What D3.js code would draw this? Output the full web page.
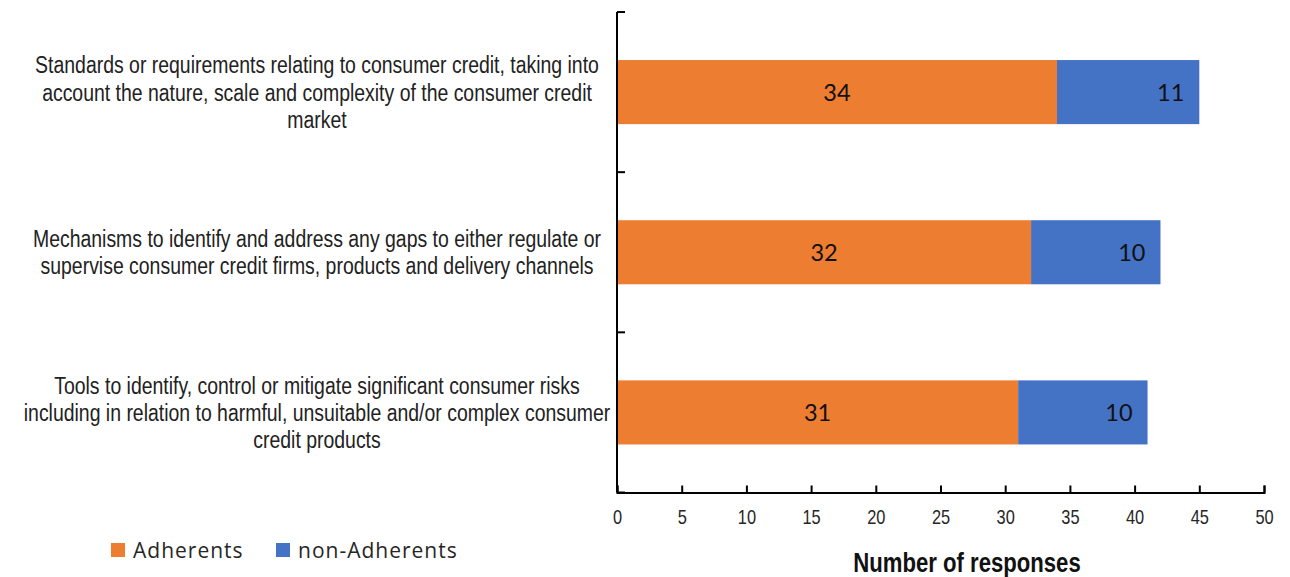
<!DOCTYPE html>
<html>
<head>
<meta charset="utf-8">
<script src="https://cdn.jsdelivr.net/npm/d3@7"></script>
<style>
  html, body { margin: 0; padding: 0; background: #fff; }
  svg { display: block; }
  .cat { font-family: "Liberation Sans", Arial, sans-serif; font-size: 24px; fill: #222; }
  .tick text { font-family: "Liberation Sans", Arial, sans-serif; font-size: 20px; fill: #262626; }
  .title { font-family: "Liberation Sans", Arial, sans-serif; font-size: 27px; font-weight: bold; fill: #111; }
  .val { font-family: Lato, "Open Sans", sans-serif; font-size: 23.5px; fill: #111; }
  .leg { font-family: "Open Sans", Lato, sans-serif; font-size: 21px; letter-spacing: 1px; fill: #262626; }
</style>
</head>
<body>
<svg id="chart" width="1290" height="577"></svg>
<script>
// Survey categories, top to bottom
const categories = [
  ["Standards or requirements relating to consumer credit, taking into",
   "account the nature, scale and complexity of the consumer credit",
   "market"],
  ["Mechanisms to identify and address any gaps to either regulate or",
   "supervise consumer credit firms, products and delivery channels"],
  ["Tools to identify, control or mitigate significant consumer risks",
   "including in relation to harmful, unsuitable and/or complex consumer",
   "credit products"]
];
const adherents = [34, 32, 31];
const nonAdherents = [11, 10, 10];
const seriesNames = ["Adherents", "non-Adherents"];
const seriesColors = ["#ED7D31", "#4472C4"];
const xTicks = [0, 5, 10, 15, 20, 25, 30, 35, 40, 45, 50];
const xTitle = "Number of responses";

const svg = d3.select("#chart");
const plotLeft = 617, plotRight = 1264, plotTop = 12, plotBottom = 492.5;
const narrow = 0.82;    // horizontal squeeze for the condensed sans text
const catNarrow = 0.81; // squeeze for the category labels

const x = d3.scaleLinear().domain([0, 50]).range([plotLeft, plotRight]);
const y = d3.scaleBand().domain(d3.range(categories.length)).range([plotTop, plotBottom]).paddingInner(0.6).paddingOuter(0.3);
const yFull = d3.scaleBand().domain(d3.range(categories.length)).range([plotTop, plotBottom]);

const rows = categories.map((c, i) => ({ i, a: adherents[i], n: nonAdherents[i] }));

// Stacked bars
const g = svg.append("g");
g.selectAll("rect.a").data(rows).join("rect")
  .attr("x", x(0)).attr("y", d => y(d.i))
  .attr("width", d => x(d.a) - x(0)).attr("height", y.bandwidth())
  .attr("fill", seriesColors[0]);
g.selectAll("rect.n").data(rows).join("rect")
  .attr("x", d => x(d.a)).attr("y", d => y(d.i))
  .attr("width", d => x(d.a + d.n) - x(d.a)).attr("height", y.bandwidth())
  .attr("fill", seriesColors[1]);

// Value labels
g.selectAll("text.va").data(rows).join("text").attr("class", "val")
  .attr("x", d => (x(0) + x(d.a)) / 2).attr("y", d => y(d.i) + y.bandwidth() / 2 + 8.5)
  .attr("text-anchor", "middle").text(d => d.a);
g.selectAll("text.vn").data(rows).join("text").attr("class", "val")
  .attr("x", d => x(d.a + d.n) - 15).attr("y", d => y(d.i) + y.bandwidth() / 2 + 8.5)
  .attr("text-anchor", "end").text(d => d.n);

// X axis with inward ticks
const xAxis = svg.append("g").attr("transform", `translate(0,${plotBottom})`)
  .call(d3.axisBottom(x).tickValues(xTicks).tickSizeInner(-7).tickSizeOuter(-7).tickPadding(17));
xAxis.select(".domain").attr("stroke", "#000").attr("stroke-width", 2);
xAxis.selectAll(".tick line").attr("stroke", "#000").attr("stroke-width", 2);
xAxis.selectAll(".tick text").attr("transform", `scale(${narrow},1)`);

// Y axis: line with ticks at band boundaries
const yb = svg.append("g");
yb.append("line").attr("x1", plotLeft).attr("x2", plotLeft).attr("y1", plotTop).attr("y2", plotBottom)
  .attr("stroke", "#000").attr("stroke-width", 2);
const bounds = d3.range(categories.length + 1).map(k => k < categories.length ? yFull(k) : plotBottom);
yb.selectAll("line.t").data(bounds).join("line")
  .attr("x1", plotLeft).attr("x2", plotLeft + 8).attr("y1", d => d).attr("y2", d => d)
  .attr("stroke", "#000").attr("stroke-width", 2);

// Category labels
const lineH = 27.3;
const labelCx = 317;
categories.forEach((lines, i) => {
  const cy = yFull(i) + yFull.bandwidth() / 2;
  const t = svg.append("g").attr("transform", `translate(${labelCx},0) scale(${catNarrow},1)`)
    .append("text").attr("class", "cat").attr("text-anchor", "middle");
  lines.forEach((ln, k) => {
    t.append("tspan").attr("x", 0)
      .attr("y", cy + (k - (lines.length - 1) / 2) * lineH + 8.5)
      .text(ln);
  });
});

// Axis title
svg.append("g").attr("transform", `translate(967,572) scale(${narrow},1)`)
  .append("text").attr("class", "title").attr("x", 0).attr("y", 0)
  .attr("text-anchor", "middle").text(xTitle);

// Legend
const legX = [111, 276];
seriesNames.forEach((name, k) => {
  svg.append("rect").attr("x", legX[k]).attr("y", 543).attr("width", 14).attr("height", 14)
    .attr("fill", seriesColors[k]);
  svg.append("text").attr("class", "leg").attr("x", legX[k] + 22).attr("y", 557.5).text(name);
});
</script>
</body>
</html>
